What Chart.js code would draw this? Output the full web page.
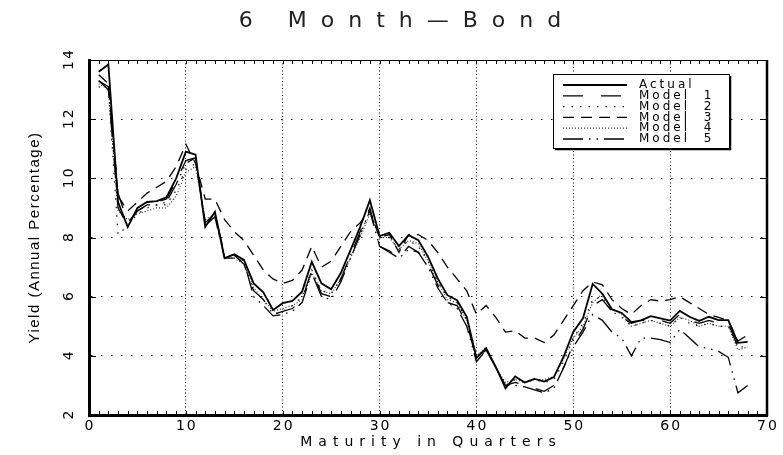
<!DOCTYPE html>
<html><head><meta charset="utf-8">
<script src="https://cdn.jsdelivr.net/npm/chart.js@4/dist/chart.umd.min.js"></script>
<style>html,body{margin:0;padding:0;background:#fff}#wrap{width:783px;height:455px;position:relative}</style>
</head><body><div id="wrap"><canvas id="c" width="783" height="455"></canvas></div>
<script>
const quarters = Array.from({length: 68}, (_, i) => i + 1);
const actual = [13.6,13.85,9.2,8.35,9.0,9.2,9.23,9.36,10.0,10.9, 10.8,8.36,8.87,7.3,7.43,7.24,6.45,6.15,5.55,5.78, 5.86,6.17,7.18,6.45,6.25,6.8,7.57,8.36,9.26,8.05, 8.16,7.71,8.08,7.91,7.35,6.62,6.05,5.88,5.32,3.93, 4.26,3.63,2.9,3.3,3.1,3.22,3.13,3.28,3.97,4.81, 5.27,6.43,6.1,5.57,5.45,5.14,5.2,5.34,5.27,5.19, 5.52,5.32,5.18,5.32,5.21,5.21,4.44,4.47];
const model1 = [13.3,13.1,9.5,8.5,8.9,9.1,9.2,9.3,9.9,10.6, 10.7,8.5,8.8,7.4,7.4,7.1,6.2,5.9,5.4,5.5, 5.6,5.9,6.9,6.1,6.0,6.6,7.4,8.2,9.0,7.7, 7.55,7.3,7.7,7.5,7.1,6.4,5.8,5.7,5.1,3.9, 4.2,3.6,3.0,3.1,3.0,2.9,2.8,3.0,3.6,4.4, 4.9,5.7,5.9,5.5,5.3,5.1,5.2,5.2,5.2,5.1, 5.4,5.2,5.1,5.2,5.1,5.1,4.3,4.4];
const model2 = [13.1,13.0,8.1,8.4,8.8,9.0,9.1,9.1,9.6,10.3, 10.5,8.5,8.7,7.3,7.4,7.2,6.2,5.9,5.4,5.5, 5.7,6.0,6.9,6.2,6.1,6.6,7.4,8.1,8.9,8.0, 8.0,7.6,7.9,7.7,7.2,6.5,6.0,5.8,5.2,4.0, 4.2,3.6,3.0,3.2,3.1,3.2,3.1,3.2,3.8,4.6, 5.1,5.9,6.0,5.5,5.3,5.0,5.1,5.2,5.1,5.0, 5.3,5.1,5.0,5.1,5.0,5.0,4.3,4.3];
const model3 = [13.5,13.2,9.4,8.9,9.2,9.5,9.7,9.9,10.4,11.15, 10.5,9.3,9.3,8.6,8.2,7.9,7.4,6.9,6.6,6.45, 6.55,6.9,7.7,7.0,7.2,7.7,8.2,8.5,8.9,8.0, 8.1,7.5,8.1,8.1,7.9,7.5,7.0,6.6,6.2,5.4, 5.7,5.3,4.8,4.85,4.6,4.6,4.45,4.7,5.2,5.7, 6.2,6.5,6.4,5.9,5.6,5.4,5.7,5.9,5.85,5.9, 6.0,5.8,5.6,5.4,5.3,5.2,4.5,4.7];
const model4 = [13.2,13.0,8.9,8.6,8.8,8.9,9.0,9.0,9.4,10.2, 10.4,8.6,8.8,7.3,7.3,7.1,6.3,5.9,5.5,5.6, 5.7,5.9,6.8,6.2,6.1,6.6,7.3,8.0,8.8,8.0, 8.0,7.6,7.9,7.8,7.2,6.5,5.9,5.8,5.2,4.0, 4.3,3.6,3.1,3.2,3.1,3.2,3.2,3.3,3.9,4.6, 5.0,5.8,6.1,5.6,5.4,5.0,5.1,5.2,5.1,5.0, 5.3,5.2,5.0,5.1,5.0,5.0,4.2,4.3];
const model5 = [13.3,13.0,9.0,8.4,8.9,9.1,9.1,9.2,9.8,10.5, 10.7,8.4,8.7,7.3,7.3,7.2,6.0,5.7,5.35,5.4, 5.5,5.8,6.8,6.0,5.9,6.5,7.3,8.1,8.9,7.7, 7.5,7.3,7.6,7.5,7.0,6.3,5.8,5.6,5.0,3.8, 4.2,3.6,3.0,3.0,2.95,2.85,2.75,2.9,3.6,4.3, 4.8,5.4,5.2,4.8,4.6,4.0,4.6,4.6,4.55,4.45, 4.9,4.6,4.3,4.25,4.15,3.95,2.75,3.0];
const seriesNames = ['Actual', 'Model  1', 'Model  2', 'Model  3', 'Model  4', 'Model  5'];
const xTicks = [0, 10, 20, 30, 40, 50, 60, 70];
const yTicks = [2, 4, 6, 8, 10, 12, 14];
const chartTitle = '6 Month\u2014Bond';
const xTitle = 'Maturity in Quarters';
const yTitle = 'Yield (Annual Percentage)';

const styles = [
  {w: 1.8, dash: [], color: '#000'},
  {w: 1.3, dash: [20, 18], color: '#000'},
  {w: 1.3, dash: [1.5, 7], color: '#222'},
  {w: 1.3, dash: [11, 7], color: '#000'},
  {w: 1.2, dash: [1, 2], color: '#333'},
  {w: 1.3, dash: [20, 6, 1.5, 6, 1.5, 6], color: '#000'}
];
const allSeries = [actual, model1, model2, model3, model4, model5];
const datasets = allSeries.map((arr, i) => ({
  label: seriesNames[i],
  data: quarters.map((q, j) => ({x: q, y: arr[j]})),
  borderColor: styles[i].color,
  borderWidth: styles[i].w,
  borderDash: styles[i].dash,
  pointRadius: 0,
  tension: 0,
  fill: false
}));

const FONT = '"DejaVu Sans", "Liberation Sans", sans-serif';

const deco = {
  id: 'deco',
  beforeDatasetsDraw(chart) {
    const {ctx, chartArea: a, scales: {x, y}} = chart;
    ctx.save();
    ctx.strokeStyle = '#000';
    ctx.lineWidth = 1;
    ctx.setLineDash([]);
    ctx.beginPath(); ctx.moveTo(a.left, a.top + 0.5); ctx.lineTo(a.right, a.top + 0.5); ctx.stroke();
    for (let v = 0; v <= 70; v++) {
      const px = Math.round(x.getPixelForValue(v)) + 0.5;
      ctx.beginPath(); ctx.moveTo(px, a.bottom); ctx.lineTo(px, a.bottom - 4); ctx.stroke();
      ctx.beginPath(); ctx.moveTo(px, a.top); ctx.lineTo(px, a.top + 4); ctx.stroke();
    }
    for (const v of yTicks) {
      const py = Math.round(y.getPixelForValue(v)) + 0.5;
      ctx.beginPath(); ctx.moveTo(a.left, py); ctx.lineTo(a.left + 7, py); ctx.stroke();
      ctx.beginPath(); ctx.moveTo(a.right, py); ctx.lineTo(a.right - 7, py); ctx.stroke();
    }
    ctx.restore();
  },
  afterDraw(chart) {
    const {ctx, chartArea: a, scales: {x, y}} = chart;
    ctx.save();
    ctx.strokeStyle = '#000';
    ctx.setLineDash([]);
    ctx.lineWidth = 2.5;
    ctx.beginPath(); ctx.moveTo(a.right, a.top); ctx.lineTo(a.right, a.bottom + 1); ctx.stroke();

    // title
    ctx.fillStyle = '#222';
    ctx.font = '22px ' + FONT;
    ctx.letterSpacing = '14px';
    ctx.textAlign = 'center';
    ctx.textBaseline = 'middle';
    ctx.fillText(chartTitle, 407, 21);
    ctx.fillStyle = '#000';
    // x tick labels
    ctx.font = '14px ' + FONT;
    ctx.letterSpacing = '2px';
    ctx.textBaseline = 'top';
    for (const v of xTicks) {
      ctx.fillText(String(v), x.getPixelForValue(v) + 1, a.bottom + 4);
    }
    // x title
    ctx.letterSpacing = '6px';
    ctx.fillText(xTitle, (a.left + a.right) / 2 + 3, a.bottom + 20);
    // y tick labels (rotated)
    ctx.letterSpacing = '2px';
    ctx.textBaseline = 'middle';
    for (const v of yTicks) {
      ctx.save();
      ctx.translate(69, y.getPixelForValue(v));
      ctx.rotate(-Math.PI / 2);
      ctx.fillText(String(v), 1, 0);
      ctx.restore();
    }
    // y title
    ctx.save();
    ctx.font = '15px "Liberation Sans", sans-serif';
    ctx.letterSpacing = '1.5px';
    ctx.translate(35, (a.top + a.bottom) / 2);
    ctx.rotate(-Math.PI / 2);
    ctx.fillText(yTitle, 0, 0);
    ctx.restore();

    // legend
    const bx = 553, by = 74, bw = 176, bh = 74;
    ctx.fillStyle = '#fff';
    ctx.fillRect(bx, by, bw, bh);
    ctx.lineWidth = 1;
    ctx.strokeStyle = '#000';
    ctx.strokeRect(bx + 0.5, by + 0.5, bw, bh);
    ctx.lineWidth = 1.5;
    ctx.beginPath(); ctx.moveTo(bx + 2, by + bh + 1.5); ctx.lineTo(bx + bw + 1.5, by + bh + 1.5); ctx.lineTo(bx + bw + 1.5, by + 2); ctx.stroke();
    ctx.font = '12px ' + FONT;
    ctx.letterSpacing = '3px';
    ctx.textAlign = 'left';
    ctx.textBaseline = 'middle';
    chart.data.datasets.forEach((ds, i) => {
      const ly = by + 11 + i * 10.8;
      ctx.strokeStyle = ds.borderColor;
      ctx.lineWidth = ds.borderWidth;
      ctx.setLineDash(ds.borderDash);
      ctx.beginPath(); ctx.moveTo(563, ly); ctx.lineTo(627, ly); ctx.stroke();
      ctx.setLineDash([]);
      ctx.fillStyle = '#000';
      ctx.fillText(ds.label, 639, ly);
    });
    ctx.restore();
  }
};

new Chart(document.getElementById('c'), {
  type: 'line',
  data: {datasets},
  options: {
    responsive: false,
    animation: false,
    devicePixelRatio: 1,
    layout: {padding: {left: 0, top: 60, right: 16, bottom: 0}},
    plugins: {legend: {display: false}, title: {display: false}, tooltip: {enabled: false}},
    scales: {
      x: {
        type: 'linear', min: 0, max: 70,
        ticks: {display: false, stepSize: 10},
        afterFit: s => { s.height = 40; },
        afterBuildTicks: s => { s.ticks = xTicks.map(v => ({value: v})); },
        grid: {
          drawTicks: false,
          color: c => (c.tick && (c.tick.value === 0 || c.tick.value === 70)) ? 'rgba(0,0,0,0)' : '#000',
          lineWidth: 1
        },
        border: {display: true, color: '#000', width: 3, dash: [1, 2.5]}
      },
      y: {
        min: 2, max: 14,
        ticks: {display: false, stepSize: 2},
        afterFit: s => { s.width = 89; },
        afterBuildTicks: s => { s.ticks = yTicks.map(v => ({value: v})); },
        grid: {
          drawTicks: false,
          color: c => (c.tick && (c.tick.value === 2 || c.tick.value === 14)) ? 'rgba(0,0,0,0)' : '#000',
          lineWidth: 1
        },
        border: {display: true, color: '#000', width: 3, dash: [1.5, 8.5]}
      }
    }
  },
  plugins: [deco]
});
</script>
</body></html>
